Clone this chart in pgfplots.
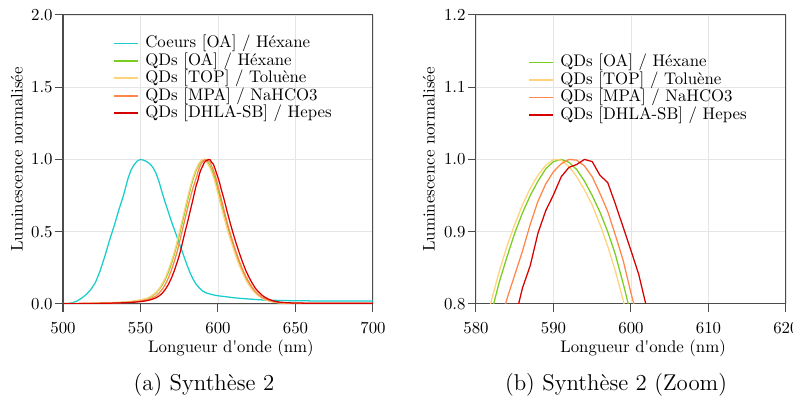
\documentclass[border=0pt]{standalone}
\usepackage{pgfplots}
\pgfplotsset{compat=1.18}
\usepackage{pgfplotstable}
\definecolor{ccyan}{RGB}{25,205,205}
\definecolor{cgreen}{RGB}{120,205,30}
\definecolor{cyellow}{RGB}{255,210,125}
\definecolor{corange}{RGB}{255,135,75}
\definecolor{cred}{RGB}{215,0,0}

\pgfplotstableread{
x y
500 0.002
503 0.003
506 0.008
509 0.02
512 0.04
515 0.065
518 0.10
521 0.15
524 0.23
527 0.33
530 0.44
533 0.54
536 0.65
539 0.75
542 0.87
544 0.93
546 0.965
548 0.99
550 1.0
552 0.995
554 0.985
556 0.97
558 0.945
560 0.905
562 0.845
564 0.77
566 0.70
568 0.635
570 0.57
572 0.51
574 0.45
576 0.39
578 0.33
580 0.27
582 0.215
584 0.17
586 0.135
588 0.11
590 0.09
592 0.078
595 0.068
598 0.06
601 0.055
605 0.05
610 0.043
615 0.038
620 0.034
625 0.03
630 0.027
640 0.024
650 0.022
660 0.021
670 0.02
680 0.02
690 0.02
700 0.021
}\coeurs

\pgfplotstableread{
x y
500 0.001
510 0.002
520 0.004
530 0.007
540 0.012
545 0.017
550 0.025
554 0.035
557 0.05
560 0.075
562 0.10
564 0.13
566 0.17
568 0.22
570 0.28
572 0.35
573 0.39
574 0.43
575 0.475
576 0.52
577 0.565
578 0.61
579 0.655
580 0.70
581 0.745
582 0.788
583 0.83
584 0.865
585 0.898
586 0.926
587 0.95
588 0.97
589 0.987
590 0.997
591 1.0
592 0.996
593 0.986
594 0.97
595 0.95
596 0.927
597 0.9
598 0.868
599 0.828
600 0.785
601 0.745
602 0.70
603 0.66
604 0.62
606 0.54
608 0.47
610 0.40
612 0.335
614 0.275
616 0.225
618 0.18
620 0.14
622 0.108
624 0.082
626 0.062
628 0.046
630 0.034
633 0.022
636 0.014
640 0.008
645 0.005
650 0.004
660 0.003
680 0.003
700 0.003
}\qdoa

\pgfplotstableread{
x y
500 0.002
510 0.003
520 0.005
530 0.008
540 0.013
545 0.019
550 0.028
554 0.038
557 0.055
560 0.08
562 0.105
564 0.14
566 0.18
568 0.235
570 0.295
572 0.365
573 0.405
574 0.45
575 0.495
576 0.54
577 0.585
578 0.63
579 0.675
580 0.72
581 0.765
582 0.805
583 0.845
584 0.88
585 0.91
586 0.937
587 0.96
588 0.978
589 0.992
590 1.0
591 0.999
592 0.99
593 0.976
594 0.958
595 0.937
596 0.91
597 0.88
598 0.845
599 0.805
600 0.76
601 0.72
602 0.675
603 0.635
604 0.595
606 0.515
608 0.445
610 0.38
612 0.315
614 0.26
616 0.21
618 0.165
620 0.13
622 0.099
624 0.075
626 0.056
628 0.042
630 0.031
633 0.02
636 0.012
640 0.007
645 0.004
650 0.003
660 0.002
680 0.002
700 0.002
}\qdtop

\pgfplotstableread{
x y
500 0.002
510 0.003
520 0.004
530 0.006
540 0.01
545 0.014
550 0.02
554 0.028
557 0.038
560 0.055
562 0.075
564 0.10
566 0.135
568 0.18
570 0.235
572 0.30
574 0.375
575 0.42
576 0.465
577 0.51
578 0.555
579 0.60
580 0.645
581 0.69
582 0.73
583 0.77
584 0.807
585 0.84
586 0.873
587 0.91
588 0.942
589 0.966
590 0.983
591 0.994
592 1.0
593 0.999
594 0.991
595 0.976
596 0.953
597 0.928
598 0.895
599 0.86
600 0.815
601 0.775
602 0.73
603 0.69
604 0.645
606 0.56
608 0.485
610 0.415
612 0.35
614 0.29
616 0.235
618 0.19
620 0.15
622 0.115
624 0.088
626 0.066
628 0.049
630 0.036
633 0.024
636 0.015
640 0.009
645 0.006
650 0.005
660 0.004
680 0.004
700 0.004
}\qdmpa

\pgfplotstableread{
x y
500 0.001
510 0.002
520 0.003
530 0.005
540 0.008
545 0.011
550 0.016
554 0.022
557 0.03
560 0.042
562 0.055
564 0.073
566 0.10
568 0.135
570 0.18
572 0.235
574 0.30
575 0.335
576 0.375
577 0.42
578 0.465
579 0.51
580 0.55
581 0.595
582 0.64
583 0.685
584 0.73
585 0.778
586 0.822
587 0.853
588 0.898
589 0.929
590 0.951
591 0.976
592 0.989
593 0.993
594 1.0
595 0.997
596 0.978
597 0.968
598 0.938
599 0.906
600 0.874
601 0.841
602 0.796
603 0.76
604 0.72
606 0.635
608 0.555
610 0.48
612 0.41
614 0.345
616 0.285
618 0.23
620 0.185
622 0.145
624 0.11
626 0.085
628 0.064
630 0.048
633 0.031
636 0.02
640 0.012
645 0.008
650 0.006
660 0.005
680 0.005
700 0.005
}\qddhla

\pgfplotsset{
  myaxis/.style={
    scale only axis, width=184.5pt, height=172pt,
    grid=major, major grid style={black!10, line width=0.5pt},
    tick align=outside, tick pos=left, major tick length=5pt,
    axis line style={black!70, line width=0.6pt},
    tick style={black!70, line width=0.6pt},
    yticklabel style={inner sep=1pt, /pgf/number format/.cd, fixed, fixed zerofill, precision=1},
    xticklabel style={yshift=-2.5pt},
    xlabel={Longueur d\textquotesingle onde (nm)},
    ylabel={Luminescence normalisée},
    legend style={draw=none, fill=none, inner sep=0pt,
      nodes={inner sep=0pt, text height=7.7pt, text depth=2.7pt},
      column sep=4pt, cells={anchor=west}},
    legend image code/.code={\draw[#1, line width=1pt] (0pt,0pt) -- (14pt,0pt);},
    every axis plot/.append style={line width=0.75pt},
  }
}

\begin{document}
\begin{tikzpicture}
\path[use as bounding box] (-37.5pt,-57.1pt) rectangle (434.5pt,180.9pt);
\begin{axis}[myaxis, at={(0pt,0pt)}, anchor=south west,
  xmin=500, xmax=700, ymin=0, ymax=2,
  xtick={500,550,600,650,700}, ytick={0,0.5,1,1.5,2},
  xlabel style={at={(axis description cs:0.542,-0.152)}, anchor=center},
  ylabel style={at={(axis description cs:-0.1485,0.5)}, anchor=center},
  legend style={at={(axis description cs:0.1615,0.933)}, anchor=north west},
]
\addplot[color=ccyan] table {\coeurs};
\addlegendentry{Coeurs [OA] / Héxane}
\addplot[color=cgreen] table {\qdoa};
\addlegendentry{QDs [OA] / Héxane}
\addplot[color=cyellow] table {\qdtop};
\addlegendentry{QDs [TOP] / Toluène}
\addplot[color=corange] table {\qdmpa};
\addlegendentry{QDs [MPA] / NaHCO3}
\addplot[color=cred] table {\qddhla};
\addlegendentry{QDs [DHLA-SB] / Hepes}
\end{axis}
\begin{axis}[myaxis, at={(245.8pt,0pt)}, anchor=south west,
  xmin=580, xmax=620, ymin=0.8, ymax=1.2,
  xtick={580,590,600,610,620}, ytick={0.8,0.9,1.0,1.1,1.2},
  xlabel style={at={(axis description cs:0.539,-0.152)}, anchor=center},
  ylabel style={at={(axis description cs:-0.152,0.5)}, anchor=center},
  legend style={at={(axis description cs:0.168,0.867)}, anchor=north west},
]
\addplot[color=cgreen] table {\qdoa};
\addlegendentry{QDs [OA] / Héxane}
\addplot[color=cyellow] table {\qdtop};
\addlegendentry{QDs [TOP] / Toluène}
\addplot[color=corange] table {\qdmpa};
\addlegendentry{QDs [MPA] / NaHCO3}
\addplot[color=cred] table {\qddhla};
\addlegendentry{QDs [DHLA-SB] / Hepes}
\end{axis}
\node at (83.9pt,-48.2pt) {\fontsize{13.6}{16}\selectfont (a) Synthèse 2};
\node at (329.2pt,-48.2pt) {\fontsize{13.6}{16}\selectfont (b) Synthèse 2 (Zoom)};
\end{tikzpicture}
\end{document}
